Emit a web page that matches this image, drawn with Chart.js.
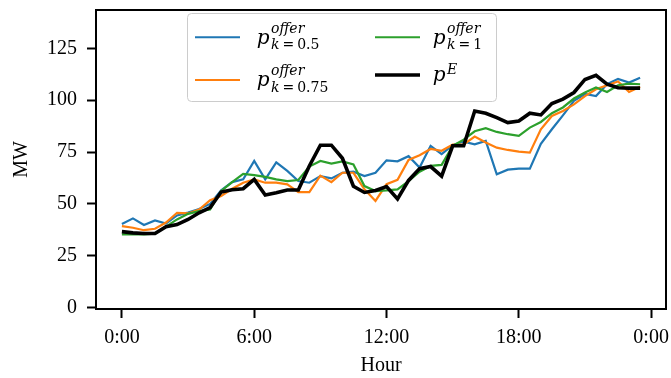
<!DOCTYPE html>
<html lang="en">
<head>
<meta charset="UTF-8">
<title>Precio ofertado vs precio de energía</title>
<script src="https://cdn.jsdelivr.net/npm/chart.js"></script>
<style>
  html, body { margin: 0; padding: 0; background: #fff; }
  #chart { display: block; }
</style>
</head>
<body>
<canvas id="chart" width="671" height="378"></canvas>
<script>
// Datos cada media hora (48 tramos)
const slotHours = 0.5;
const hourTicks = [0, 6, 12, 18, 24];
const hourTickLabels = ['0:00', '6:00', '12:00', '18:00', '0:00'];
const mwTicks = [0, 25, 50, 75, 100, 125];

const offerK05 = [40.3, 43, 39.8, 42, 40.5, 44.4, 45.8, 47.5, 50, 56.5,
  60.5, 61.8, 70.7, 61.8, 70, 65.9, 61, 60.2, 63.4, 62.3,
  65, 65.5, 63.4, 65, 71, 70.5, 73, 67.5, 78, 74,
  78.3, 80, 78.7, 80.4, 64.3, 66.5, 67, 67, 79, 86,
  92.7, 99.7, 103, 102, 107.7, 110.3, 108.5, 110.8];
const offerK075 = [39.3, 38.5, 37.3, 38, 41, 45.7, 45.4, 47.3, 51.8, 53.8,
  57.3, 60.2, 61.8, 60.2, 60.2, 59.4, 55.7, 55.7, 63.6, 60.5,
  65, 65, 57, 51.4, 59.5, 61.6, 71.2, 73.5, 76.5, 75.6,
  78.6, 78.7, 82.5, 79.6, 77.1, 76, 75.2, 74.7, 86, 92.4,
  94.8, 98, 102, 105.3, 107.2, 109, 104, 106.5];
const offerK1 = [35.3, 35.3, 35.3, 35.6, 39, 42.5, 45.2, 46.5, 47.3, 56.2,
  60.5, 64.5, 63.9, 63, 61.8, 61, 61.5, 68, 70.7, 69.4,
  70.5, 69, 58.6, 56.2, 56.5, 57, 61, 65.5, 68.3, 68.8,
  78, 81, 85, 86.5, 84.7, 83.6, 82.8, 86.8, 89.5, 93.7,
  96.5, 100.8, 103.7, 106.1, 104, 107.2, 108, 107.7];
const energyPrice = [36.6, 36, 35.7, 35.7, 39, 40, 42.5, 45.7, 48.2, 55.7,
  56.8, 57.3, 61.8, 54.3, 55.4, 56.7, 56.7, 68.3, 78.3, 78.3,
  72, 58.5, 55.5, 56.5, 58.3, 52.4, 61.3, 67, 68, 63.4,
  78, 78, 94.8, 93.7, 91.6, 89.2, 90, 93.7, 92.9, 98.4,
  100.5, 103.7, 110, 112, 107.7, 106, 105.8, 105.8];

const colors = { k05: '#1f77b4', k075: '#ff7f0e', k1: '#2ca02c', energy: '#000000' };
const tickFont = { family: "'Liberation Serif', 'Times New Roman', serif", size: 20 };
const mathFont = "'DejaVu Serif', serif";

function toPoints(values) {
  return values.map((v, i) => ({ x: i * slotHours, y: v }));
}

// Leyenda en dos columnas con sub/superíndices
const legendItems = [
  { color: colors.k05, width: 2, lineX: 195, lineY: 37.3, textX: 256.7, base: 44, sup: 'offer', supBase: 32.5, sub: '0.5', subBase: 48.5 },
  { color: colors.k075, width: 2, lineX: 195, lineY: 80, textX: 256.7, base: 85.5, sup: 'offer', supBase: 75, sub: '0.75', subBase: 91.5 },
  { color: colors.k1, width: 2, lineX: 375, lineY: 37.3, textX: 432.7, base: 44, sup: 'offer', supBase: 32.5, sub: '1', subBase: 48.5 },
  { color: colors.energy, width: 3.5, lineX: 375, lineY: 75, textX: 432.7, base: 80.5, sup: 'E', supBase: 74 }
];

const mathLegend = {
  id: 'mathLegend',
  afterDraw(chart) {
    const ctx = chart.ctx;
    ctx.save();
    ctx.beginPath();
    ctx.roundRect(187.5, 13.5, 309, 88, 4);
    ctx.fillStyle = 'rgba(255,255,255,0.8)';
    ctx.fill();
    ctx.strokeStyle = '#cccccc';
    ctx.lineWidth = 1;
    ctx.stroke();

    ctx.fillStyle = '#000';
    ctx.textBaseline = 'alphabetic';
    ctx.textAlign = 'left';
    legendItems.forEach(item => {
      ctx.beginPath();
      ctx.moveTo(item.lineX, item.lineY);
      ctx.lineTo(item.lineX + 45, item.lineY);
      ctx.strokeStyle = item.color;
      ctx.lineWidth = item.width;
      ctx.stroke();

      ctx.font = `italic 20px ${mathFont}`;
      ctx.fillText('p', item.textX, item.base);
      const sx = item.textX + ctx.measureText('p').width + 1.5;

      ctx.font = `italic 14px ${mathFont}`;
      ctx.fillText(item.sup, sx, item.supBase);
      if (item.sub) {
        ctx.fillText('k', sx, item.subBase);
        let x = sx + ctx.measureText('k').width + 3;
        ctx.font = `14px ${mathFont}`;
        ctx.fillText('=', x, item.subBase);
        x += ctx.measureText('=').width + 3;
        ctx.fillText(item.sub, x, item.subBase);
      }
    });
    ctx.restore();
  }
};

// Marco superior y derecho del área de trazado
const frame = {
  id: 'frame',
  afterDatasetsDraw(chart) {
    const { ctx, chartArea: a } = chart;
    ctx.save();
    ctx.strokeStyle = '#000';
    ctx.lineWidth = 2;
    ctx.beginPath();
    ctx.moveTo(a.left, a.top);
    ctx.lineTo(a.right, a.top);
    ctx.lineTo(a.right, a.bottom);
    ctx.stroke();
    ctx.restore();
  }
};

function lineSet(label, values, color, width, order) {
  return {
    label: label,
    data: toPoints(values),
    borderColor: color,
    backgroundColor: color,
    borderWidth: width,
    pointRadius: 0,
    tension: 0,
    fill: false,
    order: order
  };
}

const axisGrid = {
  display: true,
  drawOnChartArea: false,
  drawTicks: true,
  tickLength: 9,
  tickWidth: 2,
  tickColor: '#000'
};

new Chart(document.getElementById('chart'), {
  type: 'line',
  data: {
    datasets: [
      lineSet('p offer k=0.5', offerK05, colors.k05, 2.2, 4),
      lineSet('p offer k=0.75', offerK075, colors.k075, 2.2, 3),
      lineSet('p offer k=1', offerK1, colors.k1, 2.2, 2),
      lineSet('p E', energyPrice, colors.energy, 3.6, 1)
    ]
  },
  options: {
    responsive: false,
    animation: false,
    devicePixelRatio: 1,
    layout: { padding: { left: 0, top: 10, right: 5, bottom: 0 } },
    plugins: {
      legend: { display: false },
      tooltip: { enabled: false }
    },
    scales: {
      x: {
        type: 'linear',
        min: -1.175,
        max: 24.675,
        afterBuildTicks: s => { s.ticks = hourTicks.map(v => ({ value: v })); },
        afterFit: s => { s.height = 69; s.paddingLeft = 0; s.paddingRight = 0; },
        ticks: {
          callback: (v, i) => hourTickLabels[i],
          font: tickFont,
          color: '#000',
          padding: 8,
          maxRotation: 0,
          autoSkip: false
        },
        grid: axisGrid,
        border: { display: true, color: '#000', width: 2 },
        title: { display: true, text: 'Hour', font: tickFont, color: '#000', padding: { top: 0, bottom: 0 } }
      },
      y: {
        type: 'linear',
        min: -0.7,
        max: 143.5,
        afterBuildTicks: s => { s.ticks = mwTicks.map(v => ({ value: v })); },
        afterFit: s => { s.width = 96; s.paddingTop = 0; s.paddingBottom = 0; },
        ticks: {
          font: tickFont,
          color: '#000',
          padding: 10
        },
        grid: axisGrid,
        border: { display: true, color: '#000', width: 2 },
        title: { display: true, text: 'MW', font: tickFont, color: '#000', padding: { top: 10, bottom: 0 } }
      }
    }
  },
  plugins: [frame, mathLegend]
});
</script>
</body>
</html>
